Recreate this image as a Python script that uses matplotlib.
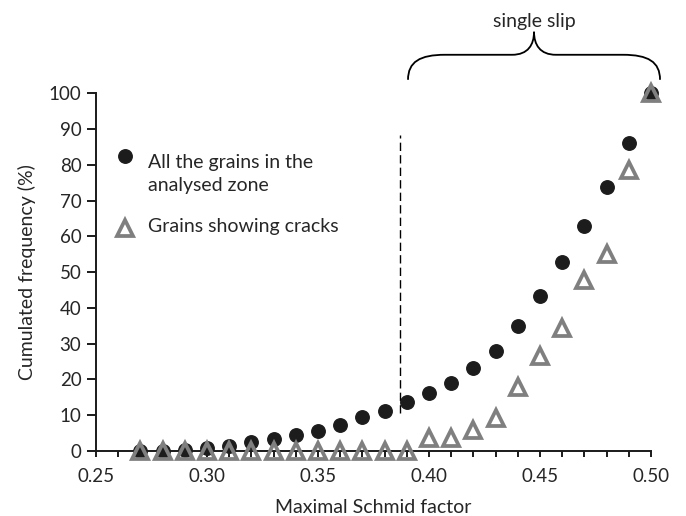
import matplotlib
matplotlib.use("Agg")
import matplotlib.pyplot as plt
from matplotlib.path import Path
from matplotlib.patches import PathPatch

plt.rcParams["font.family"] = ["Lato", "DejaVu Sans"]

# Maximal Schmid factor bins
schmid = [0.27, 0.28, 0.29, 0.30, 0.31, 0.32, 0.33, 0.34, 0.35, 0.36, 0.37,
          0.38, 0.39, 0.40, 0.41, 0.42, 0.43, 0.44, 0.45, 0.46, 0.47, 0.48,
          0.49, 0.50]
# cumulated frequency (%) - all grains in the analysed zone
all_grains = [0.0, 0.1, 0.3, 0.7, 1.5, 2.4, 3.3, 4.5, 5.7, 7.4, 9.5,
              11.3, 13.8, 16.3, 19.1, 23.1, 28.1, 35.0, 43.4, 52.9, 62.8, 73.9,
              86.2, 100.0]
# cumulated frequency (%) - grains showing cracks
cracked = [0, 0, 0, 0, 0, 0, 0, 0, 0, 0, 0,
           0, 0, 3.6, 3.6, 5.9, 9.2, 18.0, 26.6, 34.4, 47.7, 55.2,
           78.5, 100.0]

label_all = "All the grains in the\nanalysed zone"
label_cracked = "Grains showing cracks"
threshold = 0.387

TXT = "#262626"
GREY = "#7f7f7f"
DARK = "#1c1c1c"

fig = plt.figure(figsize=(6.86, 5.16), dpi=100)
ax = fig.add_axes([0.140, 0.126, 0.809, 0.693])

ax.plot(schmid, all_grains, "o", color=DARK, ms=9.7, clip_on=False, zorder=3)
ax.plot(schmid, cracked, "^", mfc="none", mec=GREY, mew=2.7, ms=11.2,
        clip_on=False, zorder=4)

# critical Schmid factor
ax.plot([threshold, threshold], [10.6, 88.4], color="black", lw=1.0,
        dashes=(6, 3))

ax.set_xlim(0.25, 0.50)
ax.set_ylim(0, 100)
ax.set_xticks([0.25, 0.30, 0.35, 0.40, 0.45, 0.50])
ax.set_xticklabels(["0.25", "0.30", "0.35", "0.40", "0.45", "0.50"])
ax.set_xticks([0.25 + 0.01 * i for i in range(26)], minor=True)
ax.set_yticks(range(0, 101, 10))

for s in ("top", "right"):
    ax.spines[s].set_visible(False)
for s in ("left", "bottom"):
    ax.spines[s].set_linewidth(1.4)
    ax.spines[s].set_color("#1a1a1a")

ax.tick_params(axis="x", which="both", direction="out", length=4, width=1.4,
               pad=8, labelsize=13.5, labelcolor=TXT, color="#1a1a1a")
ax.tick_params(axis="y", direction="out", length=6.5, width=1.4, pad=4,
               labelsize=13.5, labelcolor=TXT, color="#1a1a1a")

ax.set_xlabel("Maximal Schmid factor", fontsize=14, color=TXT, labelpad=10)
ax.set_ylabel("Cumulated frequency (%)", fontsize=14, color=TXT, labelpad=9)

# legend drawn by hand
ax.plot([0.052], [0.825], "o", color=DARK, ms=9.7, transform=ax.transAxes,
        clip_on=False)
ax.text(0.094, 0.774, label_all, transform=ax.transAxes, fontsize=14,
        color=TXT, va="center", ha="left", linespacing=1.45)
ax.plot([0.052], [0.623], "^", mfc="none", mec=GREY, mew=2.7, ms=11.2,
        transform=ax.transAxes, clip_on=False)
ax.text(0.094, 0.627, label_cracked, transform=ax.transAxes, fontsize=14,
        color=TXT, va="center", ha="left")


# curly brace over the single slip domain (pixel positions -> data)
def px(x):
    return 0.25 + (x - 96) / 2220.0


def py(y):
    return (451 - y) / 3.574


pts = [(408, 80), (408, 62), (420, 55), (445, 55),
       (512, 55),
       (528, 55), (534, 45), (534, 32),
       (534, 45), (540, 55), (556, 55),
       (623, 55),
       (648, 55), (660, 62), (660, 80)]
codes = [Path.MOVETO, Path.CURVE4, Path.CURVE4, Path.CURVE4,
         Path.LINETO,
         Path.CURVE4, Path.CURVE4, Path.CURVE4,
         Path.CURVE4, Path.CURVE4, Path.CURVE4,
         Path.LINETO,
         Path.CURVE4, Path.CURVE4, Path.CURVE4]
brace = Path([(px(a), py(b)) for a, b in pts], codes)
ax.add_patch(PathPatch(brace, fc="none", ec="black", lw=1.3, clip_on=False))
ax.text(px(534), py(21.7), "single slip", fontsize=14, color=TXT,
        ha="center", va="center", clip_on=False)

fig.savefig("out.png", dpi=100)
